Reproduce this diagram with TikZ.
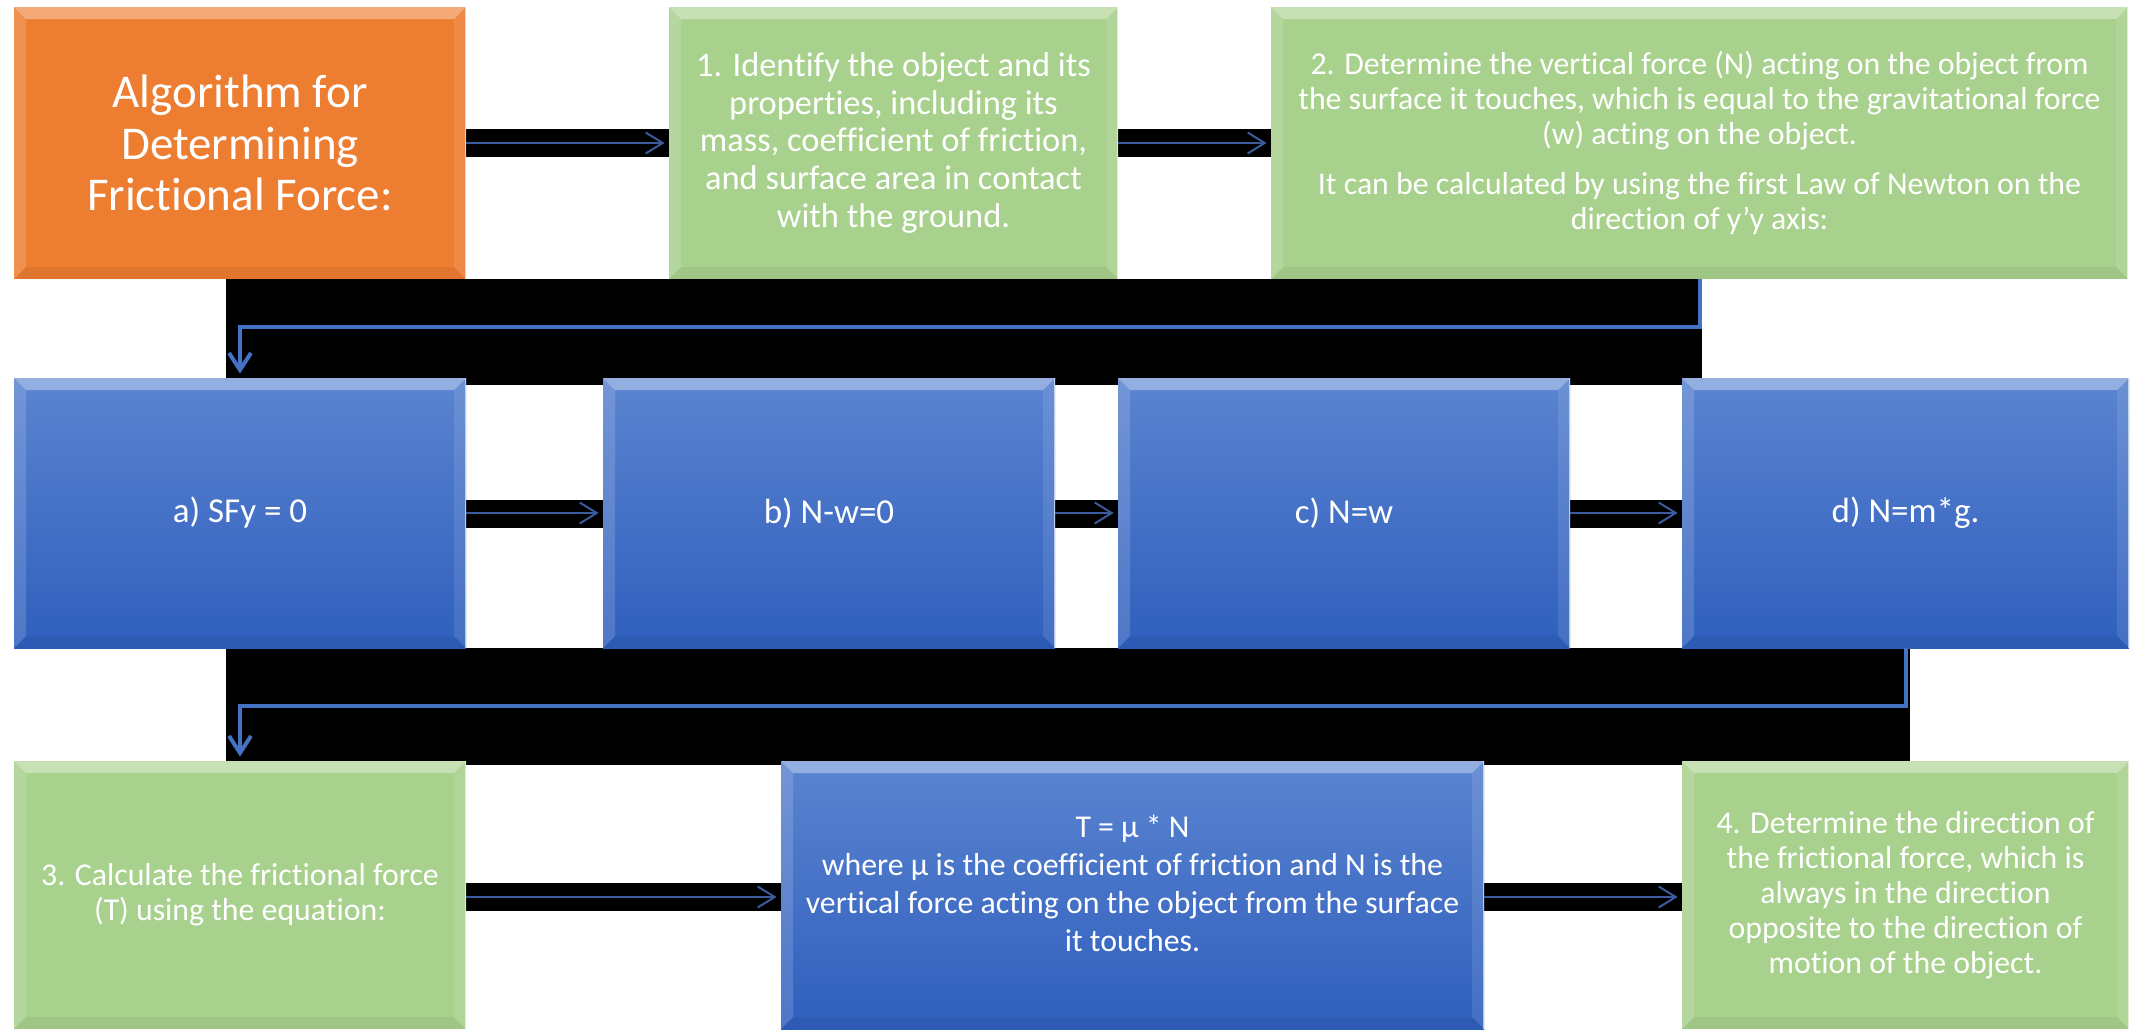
\documentclass[tikz,border=0pt]{standalone}
\usepackage{fontspec}
\setmainfont{Carlito}[Ligatures=CommonOff]
\usetikzlibrary{arrows.meta,calc}
\definecolor{orangebox}{HTML}{ED7D31}
\definecolor{greenbox}{HTML}{A9D18E}
\definecolor{bluetop}{HTML}{5B84D0}
\definecolor{bluebot}{HTML}{2F5FBD}
\definecolor{linkblue}{HTML}{4472C4}
\definecolor{thinblue}{HTML}{3A5C9E}
\newcommand{\bvw}{6pt}
\tikzset{
  bevel/.style={path picture={
    \path (path picture bounding box.north west) coordinate (pNW)
          (path picture bounding box.north east) coordinate (pNE)
          (path picture bounding box.south west) coordinate (pSW)
          (path picture bounding box.south east) coordinate (pSE);
    \fill[white,fill opacity=.35] (pNW) -- (pNE) -- ([shift={(-\bvw,-\bvw)}]pNE) -- ([shift={(\bvw,-\bvw)}]pNW) -- cycle;
    \fill[white,fill opacity=.15] (pNW) -- ([shift={(\bvw,-\bvw)}]pNW) -- ([shift={(\bvw,\bvw)}]pSW) -- (pSW) -- cycle;
    \fill[white,fill opacity=.1] (pNE) -- (pSE) -- ([shift={(-\bvw,\bvw)}]pSE) -- ([shift={(-\bvw,-\bvw)}]pNE) -- cycle;
    \fill[black,fill opacity=.05] (pSW) -- (pSE) -- ([shift={(-\bvw,\bvw)}]pSE) -- ([shift={(\bvw,\bvw)}]pSW) -- cycle;
    \draw[white,opacity=.6,line width=1pt] (pNE) -- (pSE);
  }},
  box/.style={rectangle, inner sep=0pt, text=white, align=center, bevel},
  obox/.style={box, fill=orangebox},
  gbox/.style={box, fill=greenbox},
  bbox/.style={box, top color=bluetop, bottom color=bluebot},
  bigfont/.style={font=\fontsize{23.5}{25.8}\selectfont},
  midfont/.style={font=\fontsize{17.2}{18.9}\selectfont},
  smallfont/.style={font=\fontsize{15.9}{17.5}\selectfont},
  eqfont/.style={font=\fontsize{17.5}{19}\selectfont},
  tfont/.style={font=\fontsize{15.9}{19}\selectfont},
  harrow/.style={draw=thinblue, line width=1pt, shorten >=2pt, -{Straight Barb[length=8.5pt,width=10.5pt]}},
  earrow/.style={draw=linkblue, line width=2pt, shorten >=2pt, -{Straight Barb[length=8.5pt,width=11pt]}},
  blackbar/.style={fill=black}
}
\begin{document}
\begin{tikzpicture}[x=0.5pt,y=-0.5pt]
\useasboundingbox (0,0) rectangle (2131,1029);
\fill[white] (0,0) rectangle (2131,1029);

% black background bars
\fill[blackbar] (466,129) rectangle (669,157);
\fill[blackbar] (1118,129) rectangle (1271,157);
\fill[blackbar] (226,279) rectangle (1702,385);
\fill[blackbar] (466,500) rectangle (603,528);
\fill[blackbar] (1055,500) rectangle (1118,528);
\fill[blackbar] (1570,500) rectangle (1682,528);
\fill[blackbar] (226,648) rectangle (1910,765);
\fill[blackbar] (466,883) rectangle (781,911);
\fill[blackbar] (1484,883) rectangle (1682,911);

% row 1
\node[obox, bigfont, minimum width=226pt, minimum height=136pt] (title) at (240,143)
  {Algorithm for\\Determining\\Frictional Force:};
\node[gbox, midfont, minimum width=224.5pt, minimum height=136pt] (g1) at (893.5,143)
  {1. Identify the object and its\\properties, including its\\mass, coefficient of friction,\\and surface area in contact\\with the ground.};
\node[gbox, smallfont, minimum width=428.5pt, minimum height=136pt] (g2) at (1699.5,143)
  {2. Determine the vertical force (N) acting on the object from\\the surface it touches, which is equal to the gravitational force\\(w) acting on the object.\\[7.5pt]It can be calculated by using the first Law of Newton on the\\direction of y’y axis:};

% row 2
\node[bbox, eqfont, minimum width=226pt, minimum height=135pt] (a) at (240,513) {a) SFy = 0};
\node[bbox, eqfont, minimum width=226pt, minimum height=135pt] (b) at (829,513) {b) N-w=0};
\node[bbox, eqfont, minimum width=226pt, minimum height=135pt] (c) at (1344,513) {c) N=w};
\node[bbox, eqfont, minimum width=223.5pt, minimum height=135pt] (d) at (1905.5,513) {d) N=m*g.};

% row 3
\node[gbox, smallfont, minimum width=226pt, minimum height=134pt] (g3) at (240,895)
  {3. Calculate the frictional force\\(T) using the equation:};
\node[bbox, minimum width=351.5pt, minimum height=134pt] (t) at (1132.5,895) {};
\node[tfont, text=white, align=center, inner sep=0pt] (ttext) at (1132.5,883)
  {T = µ * N\\where µ is the coefficient of friction and N is the\\vertical force acting on the object from the surface\\it touches.};
\node[gbox, smallfont, minimum width=223.5pt, minimum height=134pt] (g4) at (1905.5,895)
  {4. Determine the direction of\\the frictional force, which is\\always in the direction\\opposite to the direction of\\motion of the object.};

% connectors
\draw[harrow] (title.east) -- (g1.west);
\draw[harrow] (g1.east) -- (g2.west);
\draw[earrow] (g2.south) -- ++(0,48) -| (a.north);
\draw[harrow] (a.east) -- (b.west);
\draw[harrow] (b.east) -- (c.west);
\draw[harrow] (c.east) -- (d.west);
\draw[earrow] (d.south) -- ++(0,58) -| (g3.north);
\draw[harrow] ([yshift=-1pt]g3.east) -- ([yshift=-1pt]t.west);
\draw[harrow] ([yshift=-1pt]t.east) -- ([yshift=-1pt]g4.west);
\end{tikzpicture}
\end{document}
